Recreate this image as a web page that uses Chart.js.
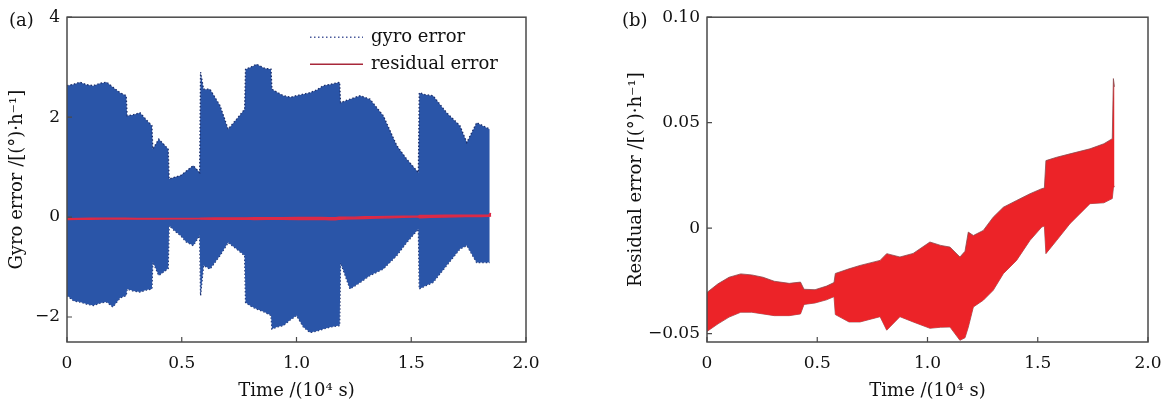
<!DOCTYPE html>
<html>
<head>
<meta charset="utf-8">
<script src="https://cdn.jsdelivr.net/npm/chart.js@4.4.1/dist/chart.umd.min.js"></script>
<style>
    html, body { margin: 0; padding: 0; background: #fff; overflow: hidden; }
    body { width: 1166px; height: 405px; position: relative; font-family: "DejaVu Serif", serif; }
    .panel { position: absolute; top: 0; height: 405px; }
    #panel-a { left: 0; width: 580px; }
    #panel-b { left: 580px; width: 600px; }
    .tag { position: absolute; top: 8px; font-size: 18px; line-height: 24px; color: #111; }
</style>
</head>
<body>
<div class="panel" id="panel-a"><canvas id="chart-a" width="580" height="405"></canvas></div>
<div class="panel" id="panel-b"><canvas id="chart-b" width="600" height="405"></canvas></div>
<span class="tag" style="left:9px">(a)</span>
<span class="tag" style="left:622px">(b)</span>
<script>
// tick values and labels
const timeTicks       = [0, 0.5, 1.0, 1.5, 2.0];
const timeTickLabels  = ['0', '0.5', '1.0', '1.5', '2.0'];
const gyroTicks       = [-2, 0, 2, 4];
const gyroTickLabels  = ['\u22122', '0', '2', '4'];
const residTicks      = [-0.05, 0, 0.05, 0.10];
const residTickLabels = ['\u22120.05', '0', '0.05', '0.10'];

// gyro error envelope, time in 10^4 s
const gyroTime  = [0.000, 0.030, 0.057, 0.085, 0.115, 0.145, 0.173, 0.200, 0.231, 0.258,
                   0.262, 0.290, 0.318, 0.345, 0.370, 0.374, 0.400, 0.441, 0.445, 0.470,
                   0.495, 0.520, 0.550, 0.578, 0.582, 0.595, 0.623, 0.667, 0.702, 0.739,
                   0.774, 0.778, 0.800, 0.826, 0.860, 0.889, 0.893, 0.915, 0.943, 0.975,
                   1.000, 1.030, 1.059, 1.090, 1.117, 1.150, 1.188, 1.192, 1.233, 1.277,
                   1.320, 1.378, 1.437, 1.480, 1.531, 1.535, 1.560, 1.595, 1.654, 1.712,
                   1.742, 1.785, 1.842];
const gyroUpper = [2.63, 2.66, 2.70, 2.65, 2.63, 2.68, 2.70, 2.60, 2.49, 2.43,
                   2.03, 2.05, 2.09, 1.95, 1.83, 1.36, 1.56, 1.36, 0.76, 0.80,
                   0.83, 0.92, 1.03, 0.89, 2.90, 2.56, 2.56, 2.23, 1.76, 1.96,
                   2.16, 2.96, 3.00, 3.06, 2.98, 2.96, 2.56, 2.50, 2.43, 2.40,
                   2.43, 2.46, 2.49, 2.55, 2.63, 2.66, 2.70, 2.29, 2.36, 2.43,
                   2.36, 2.03, 1.43, 1.16, 0.89, 2.49, 2.45, 2.43, 2.09, 1.83,
                   1.49, 1.89, 1.76];
const gyroLower = [-1.57, -1.68, -1.70, -1.74, -1.77, -1.72, -1.70, -1.80, -1.62, -1.57,
                   -1.44, -1.48, -1.50, -1.46, -1.44, -0.90, -1.17, -1.03, -0.17, -0.28,
                   -0.37, -0.50, -0.57, -0.37, -1.57, -0.97, -1.04, -0.77, -0.51, -0.64,
                   -0.77, -1.71, -1.78, -1.84, -1.90, -1.97, -2.24, -2.20, -2.17, -2.05,
                   -1.97, -2.20, -2.31, -2.28, -2.24, -2.20, -2.17, -0.91, -1.44, -1.31,
                   -1.17, -1.04, -0.77, -0.51, -0.24, -1.44, -1.38, -1.31, -0.97, -0.64,
                   -0.57, -0.91, -0.91];

// residual error envelope
const residTime  = [0.000, 0.050, 0.100, 0.153, 0.203, 0.254, 0.305, 0.373, 0.424, 0.440,
                    0.490, 0.542, 0.576, 0.582, 0.644, 0.694, 0.785, 0.815, 0.875, 0.935,
                    1.011, 1.060, 1.102, 1.147, 1.170, 1.185, 1.208, 1.253, 1.298, 1.344,
                    1.404, 1.465, 1.518, 1.530, 1.537, 1.586, 1.646, 1.737, 1.800, 1.838,
                    1.843, 1.848];
const residUpper = [-0.0305, -0.0264, -0.0233, -0.0217, -0.0222, -0.0233, -0.0252, -0.0262, -0.0256, -0.0290,
                    -0.0292, -0.0275, -0.0258, -0.0215, -0.0193, -0.0177, -0.0153, -0.0121, -0.0137, -0.0120,
                    -0.0066, -0.0082, -0.0090, -0.0137, -0.0110, -0.0019, -0.0035, -0.0011, 0.0052, 0.0099,
                    0.0131, 0.0163, 0.0187, 0.0190, 0.0320, 0.0336, 0.0352, 0.0376, 0.0400, 0.0424,
                    0.0709, 0.0670];
const residLower = [-0.0490, -0.0454, -0.0422, -0.0399, -0.0399, -0.0407, -0.0415, -0.0415, -0.0407, -0.0362,
                    -0.0355, -0.0340, -0.0325, -0.0410, -0.0445, -0.0445, -0.0420, -0.0484, -0.0420, -0.0445,
                    -0.0475, -0.0470, -0.0469, -0.0532, -0.0520, -0.0470, -0.0374, -0.0342, -0.0295, -0.0216,
                    -0.0153, -0.0058, 0.0005, 0.0010, -0.0121, -0.0058, 0.0021, 0.0116, 0.0120, 0.0140,
                    0.0190, 0.0200];

Chart.defaults.font.family = '"DejaVu Serif", serif';
Chart.defaults.color = '#111';

const pts = (xs, ys) => xs.map((x, i) => ({ x: x, y: ys[i] }));

const frame = {
    id: 'frame',
    afterDatasetsDraw(chart) {
        const { ctx, chartArea: a, scales } = chart;
        ctx.save();
        ctx.strokeStyle = '#4a4a4a';
        ctx.lineWidth = 1.5;
        ctx.strokeRect(a.left, a.top, a.right - a.left, a.bottom - a.top);
        ctx.lineWidth = 1.2;
        ctx.beginPath();
        scales.x.ticks.forEach(t => {
            const px = scales.x.getPixelForValue(t.value);
            ctx.moveTo(px, a.bottom);
            ctx.lineTo(px, a.bottom - 5);
        });
        scales.y.ticks.forEach(t => {
            const py = scales.y.getPixelForValue(t.value);
            ctx.moveTo(a.left, py);
            ctx.lineTo(a.left + 5, py);
        });
        ctx.stroke();
        ctx.restore();
    }
};

const legendItems = [
    { text: 'gyro error',     color: '#4b5b9c', dash: [1.5, 2.5] },
    { text: 'residual error', color: '#a8283a', dash: [] },
];

const insideLegend = {
    id: 'insideLegend',
    afterDraw(chart) {
        const { ctx, chartArea: a } = chart;
        ctx.save();
        ctx.font = '18px "DejaVu Serif", serif';
        ctx.textBaseline = 'middle';
        legendItems.forEach((item, i) => {
            const y = a.top + 20 + i * 27;
            ctx.strokeStyle = item.color;
            ctx.lineWidth = 1.5;
            ctx.setLineDash(item.dash);
            ctx.beginPath();
            ctx.moveTo(a.left + 243, y);
            ctx.lineTo(a.left + 296, y);
            ctx.stroke();
            ctx.setLineDash([]);
            ctx.fillStyle = '#111';
            ctx.fillText(item.text, a.left + 304, y);
        });
        ctx.restore();
    }
};

function xAxis() {
    return {
        type: 'linear', min: 0, max: 2,
        afterBuildTicks: s => { s.ticks = timeTicks.map(v => ({ value: v })); },
        afterFit: s => { s.height = 63; },
        grid: { display: false, drawTicks: false },
        border: { display: false },
        ticks: { padding: 11, font: { size: 17 }, maxRotation: 0, autoSkip: false,
                 callback: (v, i) => timeTickLabels[i] },
        title: { display: true, text: 'Time /(10\u2074 s)', font: { size: 18 }, padding: { top: 0, bottom: 3 } },
    };
}

function yAxis(min, max, ticks, labels, width, title, titlePad) {
    return {
        type: 'linear', min: min, max: max,
        afterBuildTicks: s => { s.ticks = ticks.map(v => ({ value: v })); },
        afterFit: s => { s.width = width; },
        grid: { display: false, drawTicks: false },
        border: { display: false },
        ticks: { padding: 7, font: { size: 17 }, autoSkip: false,
                 callback: (v, i) => labels[i] },
        title: { display: true, text: title, font: { size: 18 }, padding: { top: titlePad, bottom: 0 } },
    };
}

function band(label, xs, up, low, stroke, fillColor, width, dash, order) {
    return [
        { label: label, data: pts(xs, up), borderColor: stroke, backgroundColor: fillColor,
          borderWidth: width, borderDash: dash, fill: '+1', pointRadius: 0, order: order },
        { label: label + ' low', data: pts(xs, low), borderColor: stroke, borderDash: dash,
          borderWidth: width, fill: false, pointRadius: 0, order: order },
    ];
}

const common = {
    responsive: false,
    animation: false,
    events: [],
    plugins: { legend: { display: false }, tooltip: { enabled: false } },
};

new Chart(document.getElementById('chart-a'), {
    type: 'line',
    data: {
        datasets: [
            ...band('residual error', residTime, residUpper, residLower, '#dc2a46', '#dc2a46', 1.4, [], 0),
            ...band('gyro error', gyroTime, gyroUpper, gyroLower, '#1c2f6c', '#2a55a8', 1.3, [1.5, 2], 1),
        ],
    },
    options: {
        ...common,
        layout: { padding: { top: 17, right: 54, bottom: 0, left: 0 } },
        scales: {
            x: xAxis(),
            y: yAxis(-2.5, 4, gyroTicks, gyroTickLabels, 67, 'Gyro error /[(\u00b0)\u00b7h\u207b\u00b9]', 7),
        },
    },
    plugins: [frame, insideLegend],
});

new Chart(document.getElementById('chart-b'), {
    type: 'line',
    data: {
        datasets: band('residual error', residTime, residUpper, residLower, '#8a4a4e', '#ec2328', 0.8, [], 0),
    },
    options: {
        ...common,
        layout: { padding: { top: 17, right: 32, bottom: 0, left: 0 } },
        scales: {
            x: xAxis(),
            y: yAxis(-0.054, 0.10, residTicks, residTickLabels, 127, 'Residual error /[(\u00b0)\u00b7h\u207b\u00b9]', 46),
        },
    },
    plugins: [frame],
});
</script>
</body>
</html>
